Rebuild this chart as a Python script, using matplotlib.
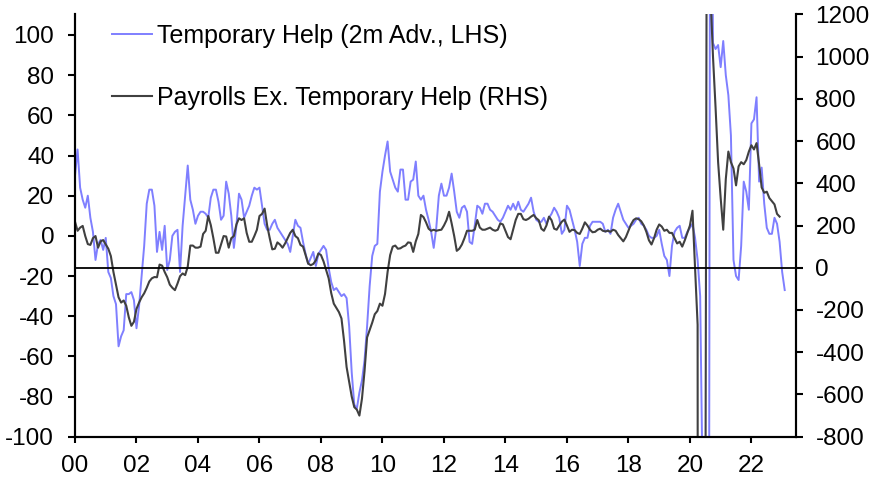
import numpy as np
import matplotlib
matplotlib.use("Agg")
import matplotlib.pyplot as plt

plt.rcParams["font.family"] = ["Liberation Sans", "DejaVu Sans"]
plt.rcParams["axes.unicode_minus"] = False

# Monthly values from Jan 2000
# Temporary help, 2m advanced (LHS, 000s)
temp_help = [
    30, 43, 24, 18, 14, 20, 9, 2, -12, -4, -2, -7,            # 2000
    -1, -18, -21, -30, -34, -55, -50, -47, -29, -29, -28, -32,  # 2001
    -46, -35, -20, -5, 16, 23, 23, 15, -8, 2, -7, 5,            # 2002
    -17, -12, 0, 2, 3, -18, 5, 20, 35, 18, 13, 6,               # 2003
    10, 12, 12, 11, 9, 19, 23, 23, 17, 8, 10, 27,               # 2004
    21, 10, -6, 5, 21, 18, 9, 12, 15, 20, 24, 23,               # 2005
    24, 15, 6, 3, 3, 6, 8, 4, 2, 0, -2, -4,                     # 2006
    -8, 0, 8, 5, 4, -3, -9, -14, -11, -8, -15, -9,              # 2007
    -7, -5, -7, -16, -23, -27, -26, -28, -30, -29, -31, -45,    # 2008
    -68, -84, -86, -78, -72, -62, -45, -25, -10, -5, -4, 22,    # 2009
    32, 40, 47, 32, 28, 24, 22, 33, 33, 18, 18, 27,             # 2010
    28, 37, 20, 18, 20, 13, 8, 2, -6, 4, 20, 26,                # 2011
    20, 20, 24, 31, 22, 12, 9, 14, 15, 12, -3, -4,              # 2012
    5, 15, 14, 11, 16, 16, 13, 12, 10, 8, 7, 9,                 # 2013
    12, 15, 13, 16, 13, 17, 13, 12, 14, 16, 19, 12,             # 2014
    8, 7, 7, 9, 6, 9, 11, 14, 12, 9, 1, 3,                      # 2015
    15, 13, 8, 3, -3, -15, -4, -1, -1, 5, 7, 7,                 # 2016
    7, 7, 6, 2, 3, 1, 9, 13, 16, 12, 8, 6,                      # 2017
    4, 5, 6, 8, 9, 6, 5, 3, 0, -1, -1, 0,                       # 2018
    3, -4, -10, -12, -20, -5, 2, 4, 5, -1, -1, 2,               # 2019
    4, 6, -1, -12, -30, -130, -840, -550, 300, 96, 93, 95,      # 2020
    84, 97, 80, 70, 50, -12, -20, -22, -5, 27, 22, 13,          # 2021
    56, 58, 69, 27, 34, 16, 4, 1, 1, 9, 6, -3,                  # 2022
    -18, -27,                                                   # 2023
]

# Payrolls ex. temporary help (RHS, 000s)
payrolls_ex = [
    218, 175, 190, 198, 150, 112, 108, 140, 150, 95, 125, 131,
    110, 90, 55, -20, -80, -140, -165, -155, -180, -235, -275, -256,
    -195, -165, -140, -121, -95, -65, -50, -44, -45, 15, 10, -20,
    -45, -80, -95, -106, -75, -40, -27, -35, 5, 105, 105, 95,
    95, 100, 160, 175, 245, 202, 140, 71, 71, 110, 150, 148,
    95, 140, 150, 205, 234, 226, 234, 165, 123, 123, 150, 180,
    245, 255, 280, 200, 140, 87, 90, 120, 110, 95, 115, 140,
    165, 180, 150, 140, 108, 100, 60, 20, 12, 18, 35, 68,
    60, 30, -10, -50, -120, -170, -190, -210, -240, -345, -470, -540,
    -610, -660, -672, -700, -620, -490, -330, -295, -260, -220, -205, -170,
    -180, -124, -20, 60, 100, 105, 90, 92, 100, 105, 120, 118,
    75, 125, 160, 250, 240, 215, 185, 175, 180, 175, 178, 180,
    200, 225, 265, 210, 150, 80, 90, 110, 140, 175, 175, 175,
    180, 226, 190, 180, 180, 185, 190, 180, 175, 180, 210, 205,
    175, 145, 135, 180, 226, 255, 255, 230, 226, 232, 242, 250,
    235, 225, 185, 175, 200, 242, 225, 185, 180, 200, 218, 228,
    200, 170, 180, 178, 165, 160, 185, 215, 200, 180, 168, 170,
    180, 185, 175, 172, 175, 170, 180, 175, 155, 140, 125, 145,
    175, 205, 226, 234, 230, 220, 200, 170, 130, 110, 140, 180,
    205, 195, 175, 180, 165, 165, 140, 115, 123, 100, 130, 165,
    200, 270, 0, -270, -20000, -6000, -1500, 4200, 1300, 1000, 760, 500,
    330, 180, 420, 550, 500, 470, 390, 480, 500, 490, 510, 550,
    580, 560, 590, 490, 380, 355, 360, 330, 315, 300, 255, 242,
]

year_ticks = list(range(2000, 2023, 2))
year_labels = [f"{y % 100:02d}" for y in year_ticks]

t_blue = 2000 + np.arange(len(temp_help)) / 12
t_black = 2000 + np.arange(len(payrolls_ex)) / 12

FS = 17.5

fig = plt.figure(figsize=(8.76, 4.88), dpi=100)
ax = fig.add_axes([75 / 876, 1 - 436.7 / 488, 721 / 876, 422.4 / 488])
ax2 = ax.twinx()

l1, = ax.plot(t_blue, temp_help, color="#7f7fff", lw=1.4,
              label="Temporary Help (2m Adv., LHS)")
l2, = ax2.plot(t_black, payrolls_ex, color="#404040", lw=1.5,
               label="Payrolls Ex. Temporary Help (RHS)")
ax2.axhline(0, color="black", lw=1.3)

ax.set_xlim(2000, 2023.45)
ax.set_ylim(-100, 110.3)
ax2.set_ylim(-800, 1200)
ax.set_yticks(range(-100, 101, 20))
ax2.set_yticks(range(-800, 1201, 200))
ax.set_xticks(year_ticks)
ax.set_xticklabels(year_labels)

for a in (ax, ax2):
    a.spines["top"].set_visible(False)
    for s in ("left", "right", "bottom"):
        a.spines[s].set_linewidth(1.5)
ax.tick_params(axis="y", direction="out", length=5, width=1.5, labelsize=FS, pad=10)
ax.tick_params(axis="x", direction="out", length=4, width=1.5, labelsize=FS, pad=9)
ax2.tick_params(axis="y", direction="out", length=5, width=1.5, labelsize=FS, pad=9)

ax2.legend(handles=[l1, l2], loc="upper left", frameon=False, fontsize=18,
           bbox_to_anchor=(112 / 876, 1 - 23.5 / 488), bbox_transform=fig.transFigure,
           borderaxespad=0, borderpad=0, handlelength=1.6, handletextpad=0.2,
           labelspacing=1.52)

fig.savefig("out.png", dpi=100)
